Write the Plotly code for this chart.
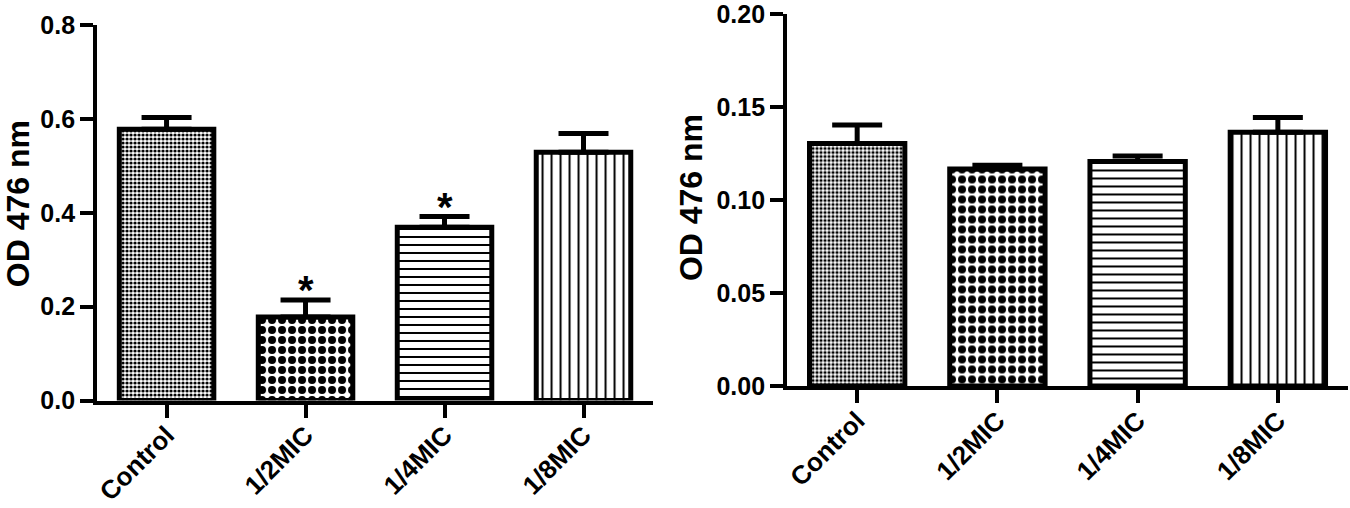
import plotly.graph_objects as go

# Data
groups = ["Control", "1/2MIC", "1/4MIC", "1/8MIC"]

od_left = [0.578, 0.178, 0.369, 0.529]
err_left = [0.025, 0.036, 0.023, 0.040]
stars_left = ["", "*", "*", ""]

od_right = [0.1305, 0.1168, 0.1208, 0.1366]
err_right = [0.010, 0.002, 0.003, 0.008]

y_title = "OD 476 nm"

# Fill patterns per group (fine checker, coarse checker, horizontal, vertical)
pat_shapes = [".", ".", "-", "|"]
pat_sizes = [4, 10, 8, 9]
pat_solid = [0.5, 0.5, 0.25, 0.22]

FONT = "Liberation Sans, Arial, sans-serif"
NARROW = "Liberation Sans Narrow, Arial Narrow, Liberation Sans, sans-serif"


def bar_trace(vals, errs, xa, ya):
    return go.Bar(
        x=groups, y=vals, xaxis=xa, yaxis=ya, width=0.68,
        marker=dict(
            color="white",
            line=dict(color="black", width=5),
            pattern=dict(shape=pat_shapes, size=pat_sizes, solidity=pat_solid,
                         fgcolor="black", bgcolor="white", fillmode="replace"),
        ),
        error_y=dict(type="data", symmetric=False, array=errs,
                     arrayminus=[0] * len(errs), color="black",
                     thickness=5, width=25),
        showlegend=False,
    )


fig = go.Figure()
fig.add_trace(bar_trace(od_left, err_left, "x", "y"))
fig.add_trace(bar_trace(od_right, err_right, "x2", "y2"))

xstyle = dict(
    type="category", range=[-0.5, 3.5], showline=True, linewidth=4,
    linecolor="black", ticks="outside", ticklen=13, tickwidth=4,
    tickcolor="black", tickangle=-45, showgrid=False, automargin=False,
    ticklabelstandoff=-8,
    tickfont=dict(family=NARROW, size=26, color="black", weight="bold"),
)
ystyle = dict(
    showline=True, linewidth=4, linecolor="black", ticks="outside",
    ticklen=13, tickwidth=4, tickcolor="black", showgrid=False,
    zeroline=False, automargin=False,
    tickfont=dict(family=FONT, size=25, color="black", weight="bold"),
)

fig.update_layout(
    template="none",
    width=1350, height=508,
    margin=dict(l=0, r=0, t=0, b=0),
    paper_bgcolor="white", plot_bgcolor="white",
    xaxis=dict(xstyle, domain=[0.0719, 0.4837], anchor="y"),
    yaxis=dict(ystyle, domain=[0.2116, 0.9508], anchor="x",
               range=[0, 0.8], dtick=0.2, tickformat=".1f"),
    xaxis2=dict(xstyle, domain=[0.583, 0.9985], anchor="y2"),
    yaxis2=dict(ystyle, domain=[0.2402, 0.9715], anchor="x2",
                range=[0, 0.2], dtick=0.05, tickformat=".2f"),
)

# y titles
for xp, yp in [(18 / 1350, 0.598), (691 / 1350, 0.61)]:
    fig.add_annotation(text=y_title, xref="paper", yref="paper", x=xp, y=yp,
                       xanchor="center", yanchor="middle",
                       textangle=-90, showarrow=False,
                       font=dict(family=FONT, size=32, color="black", weight="bold"))

# significance stars
for g, v, e, s in zip(groups, od_left, err_left, stars_left):
    if s:
        fig.add_annotation(text=s, x=g, y=v + e, xref="x", yref="y",
                           yanchor="bottom", yshift=-14, showarrow=False,
                           font=dict(family=FONT, size=40, color="black", weight="bold"))

# page body margin would push the figure down/right by 8px
fig.write_html("out.html", config={"displayModeBar": False},
               post_script="document.body.style.margin='0';")
